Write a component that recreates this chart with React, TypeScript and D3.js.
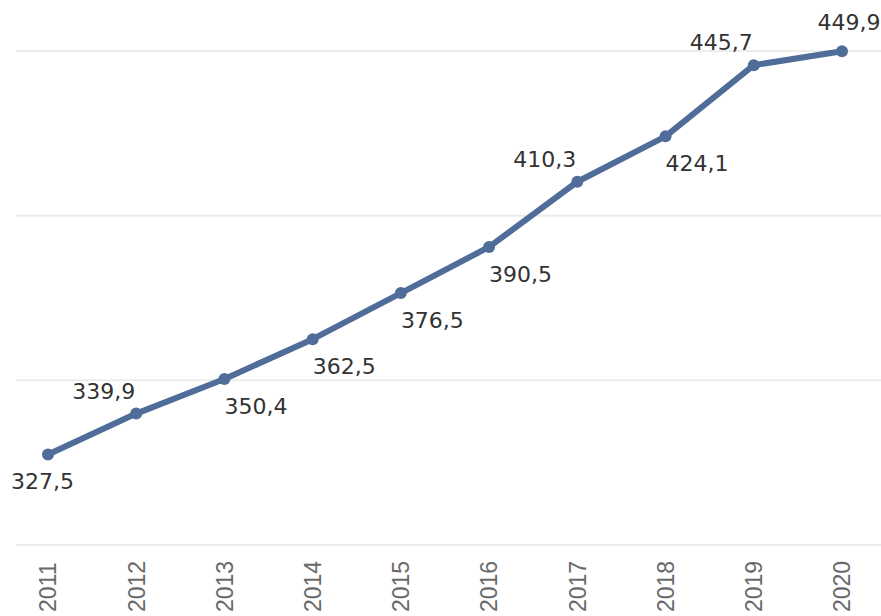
import React from "react";
import * as d3 from "d3";

const years = ["2011", "2012", "2013", "2014", "2015", "2016", "2017", "2018", "2019", "2020"];
const values = [327.5, 339.9, 350.4, 362.5, 376.5, 390.5, 410.3, 424.1, 445.7, 449.9];
const valueLabels = ["327,5", "339,9", "350,4", "362,5", "376,5", "390,5", "410,3", "424,1", "445,7", "449,9"];
const gridValues = [300, 350, 400, 450];
// label placement: "bl" = below, ending right of point; "al" = above-left; "br" = below-right; "ac" = above centred
const labelPlacement = ["bl", "al", "br", "br", "br", "br", "al", "br", "al", "ac"];

const W = 881;
const H = 616;

export default function App() {
  const x = d3.scalePoint<string>().domain(years).range([48, 842]);
  const y = d3.scaleLinear().domain([300, 450]).range([545, 51]);
  const line = d3
    .line<number>()
    .x((_, i) => x(years[i]) as number)
    .y((d) => y(d));

  const color = "#4f6d98";

  return (
    <svg
      width={W}
      height={H}
      style={{ position: "absolute", left: 0, top: 0, background: "#fff" }}
    >
      {gridValues.map((g) => (
        <line key={g} x1={16} x2={W} y1={y(g)} y2={y(g)} stroke="#ececec" strokeWidth={2} />
      ))}
      <path d={line(values) || ""} fill="none" stroke={color} strokeWidth={6} strokeLinejoin="round" strokeLinecap="round" />
      {values.map((v, i) => (
        <circle key={i} cx={x(years[i]) as number} cy={y(v)} r={6} fill={color} />
      ))}
      {values.map((v, i) => {
        const px = x(years[i]) as number;
        const py = y(v);
        const p = labelPlacement[i];
        let tx = px;
        let ty = py;
        let anchor: "start" | "end" | "middle" = "start";
        if (p === "bl") {
          tx = px + 26;
          ty = py + 35;
          anchor = "end";
        } else if (p === "al") {
          tx = px - 1;
          ty = py - 15;
          anchor = "end";
        } else if (p === "br") {
          tx = px;
          ty = py + 35;
          anchor = "start";
        } else {
          tx = px + 7;
          ty = py - 21;
          anchor = "middle";
        }
        return (
          <text
            key={"l" + i}
            x={tx}
            y={ty}
            textAnchor={anchor}
            fontFamily="'DejaVu Sans', sans-serif"
            fontSize={22}
            fill="#333"
          >
            {valueLabels[i]}
          </text>
        );
      })}
      {years.map((yr) => {
        const px = x(yr) as number;
        return (
          <text
            key={yr}
            transform={`translate(${px},612) rotate(-90)`}
            textAnchor="start"
            dy="0.36em"
            fontFamily="'Liberation Sans', Arial, sans-serif"
            fontSize={23}
            fill="#6a6a6a"
          >
            {yr}
          </text>
        );
      })}
    </svg>
  );
}
